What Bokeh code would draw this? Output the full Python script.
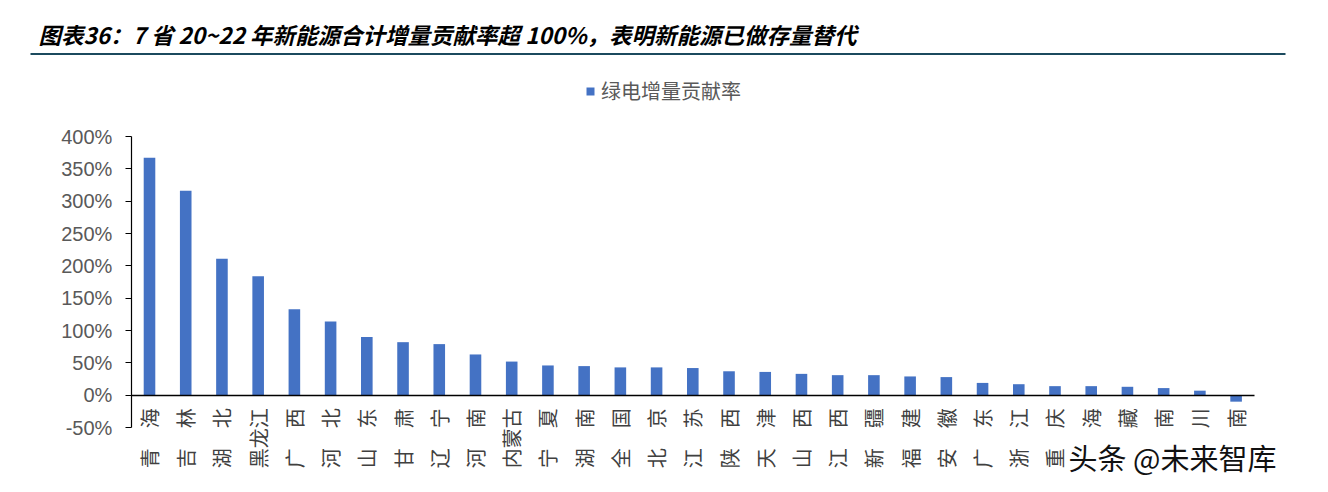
from bokeh.plotting import figure
from bokeh.models import (Range1d, FixedTicker, PrintfTickFormatter, Legend, LegendItem,
                          Label, BoxAnnotation, ColumnDataSource, LinearAxis)
from bokeh.embed import file_html
from bokeh.resources import INLINE
import math

provinces = ["青　海", "吉　林", "湖　北", "黑龙江", "广　西", "河　北", "山　东", "甘　肃", "辽　宁", "河　南",
             "内蒙古", "宁　夏", "湖　南", "全　国", "北　京", "江　苏", "陕　西", "天　津", "山　西", "江　西",
             "新　疆", "福　建", "安　徽", "广　东", "浙　江", "重　庆", "上　海", "西　藏", "云　南", "四　川", "海　南"]
contribution = [367, 316, 211, 184, 133, 114, 90, 82, 79, 63,
                52, 46, 45, 43, 43, 42, 37, 36, 33, 31,
                31, 29, 28, 19, 17, 14, 14, 13, 11, 7, -10]
y_ticks = [-50, 0, 50, 100, 150, 200, 250, 300, 350, 400]
series_name = "绿电增量贡献率"
title_text = "图表36：7 省 20~22 年新能源合计增量贡献率超 100%，表明新能源已做存量替代"
watermark = "头条 @未来智库"

# ---- layout geometry (pixels) ----
W, H = 1312, 476
X0_PX, X_STEP = 149.0, 36.22        # centre of first category, pitch
Y0_PX, Y_SCALE = 394.7, 0.64667     # pixel row of 0 %, pixels per 1 %


def px2x(px):
    return (px - X0_PX) / X_STEP


def py2y(py):
    return (Y0_PX - py) / Y_SCALE


idx = list(range(len(provinces)))
src = ColumnDataSource(dict(x=idx, y=contribution, name=provinces))

p = figure(width=W, height=H, x_range=Range1d(px2x(0), px2x(W)), y_range=Range1d(py2y(H), py2y(0)),
           output_backend="svg", toolbar_location=None, x_axis_location=None, y_axis_location=None,
           min_border=0, min_border_left=0, min_border_right=0, min_border_top=0, min_border_bottom=0)
p.outline_line_color = None
p.grid.grid_line_color = None
p.background_fill_color = "white"
p.border_fill_color = "white"

r = p.vbar(x="x", top="y", bottom=0, width=0.32, source=src, fill_color="#4472C4", line_color=None)

# y axis
ya = LinearAxis(fixed_location=-0.5, bounds=(min(y_ticks), max(y_ticks)))
ya.ticker = FixedTicker(ticks=y_ticks)
ya.formatter = PrintfTickFormatter(format="%d%%")
ya.major_label_text_font = "Liberation Sans"
ya.major_label_text_font_size = "20px"
ya.major_label_text_color = "#595959"
ya.axis_line_color = "#000000"
ya.axis_line_width = 1.2
ya.major_tick_line_color = "#000000"
ya.major_tick_out = 6
ya.major_tick_in = 0
ya.minor_tick_line_color = None
ya.major_label_standoff = 13
p.add_layout(ya, "left")

# x axis at y = 0
xa = LinearAxis(fixed_location=0, bounds=(-0.5, len(provinces) - 0.5))
xa.ticker = FixedTicker(ticks=idx)
xa.major_label_overrides = {i: n for i, n in zip(idx, provinces)}
xa.axis_line_color = "#000000"
xa.axis_line_width = 1.5
xa.major_tick_line_color = None
xa.minor_tick_line_color = None
xa.major_tick_out = 0
xa.major_tick_in = 0
xa.major_label_orientation = math.pi / 2
xa.major_label_text_font = "Noto Sans CJK SC"
xa.major_label_text_font_size = "20px"
xa.major_label_text_color = "#404040"
xa.major_label_standoff = 13
p.add_layout(xa, "below")

legend = Legend(items=[LegendItem(label=series_name, renderers=[r])], location=(585, 371),
                glyph_width=10, glyph_height=10, padding=0, margin=0, label_standoff=6,
                border_line_color=None, background_fill_alpha=0,
                label_text_font="Noto Sans CJK SC", label_text_font_size="20px",
                label_text_color="#595959")
p.add_layout(legend, "center")

p.add_layout(Label(x=px2x(38), y=py2y(33), text=title_text,
                   text_font="Noto Sans CJK SC", text_font_size="22.5px", text_font_style="bold italic",
                   text_color="#000000", text_baseline="middle"))
p.add_layout(BoxAnnotation(left=px2x(30), right=px2x(1285), top=py2y(52.5), bottom=py2y(54.5),
                           fill_color="#1B4A5E", fill_alpha=1, line_color=None))
p.add_layout(Label(x=px2x(1068), y=py2y(456), text=watermark,
                   text_font="Noto Sans CJK SC", text_font_size="29px",
                   text_color="#111111", text_baseline="middle",
                   background_fill_color="white", background_fill_alpha=1))

open("out.html", "w").write(file_html(p, INLINE))
